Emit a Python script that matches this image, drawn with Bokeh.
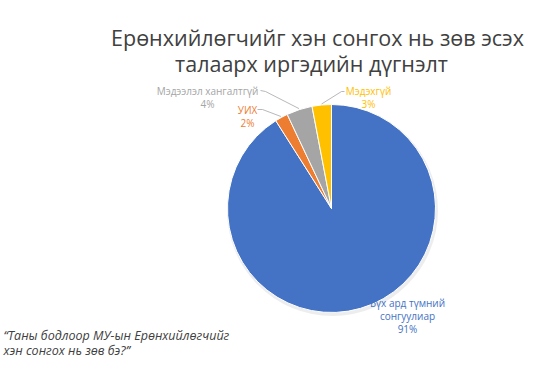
import math
from bokeh.plotting import figure
from bokeh.models import Range1d
from bokeh.embed import file_html
from bokeh.resources import INLINE
from bokeh.core.properties import value

# ---- data ----
categories = ["Бүх ард түмний сонгуулиар", "УИХ", "Мэдээлэл хангалтгүй", "Мэдэхгүй"]
shares = [91, 2, 4, 3]
colors = ["#4472C4", "#ED7D31", "#A5A5A5", "#FFC000"]
label_lines = [["Бүх ард түмний", "сонгуулиар"], ["УИХ"], ["Мэдээлэл хангалтгүй"], ["Мэдэхгүй"]]
title_lines = ["Ерөнхийлөгчийг хэн сонгох нь зөв эсэх", "талаарх иргэдийн дүгнэлт"]
question_lines = ["“Таны бодлоор МУ-ын Ерөнхийлөгчийг", "хэн сонгох нь зөв бэ?”"]

# ---- layout ----
W, H = 530, 361
cx, cy, r = 331, H - 208, 104
FONT = "Open Sans"
label_pos = [(407, H - 302), (247, H - 109), (207, H - 90), (368, H - 90)]
leader_start = [None,
                [(257, H - 109), (262, H - 109)],
                [(260, H - 90), (265, H - 91)],
                [(344, H - 91), (341, H - 91)]]
line_step = 13

p = figure(width=W, height=H, output_backend="svg", toolbar_location=None,
           x_range=Range1d(0, W), y_range=Range1d(0, H), min_border=0)
p.axis.visible = False
p.grid.visible = False
p.outline_line_color = None
p.background_fill_color = "white"
p.border_fill_color = "white"

# subtle shadow
p.circle(x=[cx + 1], y=[cy - 2], radius=r + 1.5, fill_color="#000000", fill_alpha=0.07, line_color=None)

total = sum(shares)
start = math.pi / 2
mids = []
for s, c in zip(shares, colors):
    sweep = s / total * 2 * math.pi
    end = start - sweep
    p.wedge(x=[cx], y=[cy], radius=r, start_angle=[start], end_angle=[end], direction="clock",
            fill_color=c, line_color="white", line_width=1)
    mids.append(start - sweep / 2)
    start = end

# leader lines
for ls, m in zip(leader_start, mids):
    if ls is None:
        continue
    xs = [pt[0] for pt in ls] + [cx + (r + 1) * math.cos(m)]
    ys = [pt[1] for pt in ls] + [cy + (r + 1) * math.sin(m)]
    p.line(xs, ys, line_color="#A6A6A6", line_width=0.8)

# data labels
for lines, s, c, (lx, ly) in zip(label_lines, shares, colors, label_pos):
    texts = lines + [f"{s}%"]
    for i, t in enumerate(texts):
        p.text(x=[lx], y=[ly - i * line_step], text=[t], text_color=c,
               text_font=value(FONT), text_font_size="10px",
               text_align="center", text_baseline="middle")

# title
title_pos = [(317, H - 37), (311, H - 63)]
for t, (tx, ty) in zip(title_lines, title_pos):
    p.text(x=[tx], y=[ty], text=[t], text_color="#404040", text_font=value(FONT),
           text_font_size="21.5px", text_align="center", text_baseline="alphabetic")

# question
q_pos = [(3, H - 335), (3, H - 350)]
for t, (qx, qy) in zip(question_lines, q_pos):
    p.text(x=[qx], y=[qy], text=[t], text_color="#404040", text_font=value(FONT),
           text_font_size="12.5px", text_font_style="italic",
           text_align="left", text_baseline="middle")

open("out.html", "w").write(file_html(p, INLINE))
